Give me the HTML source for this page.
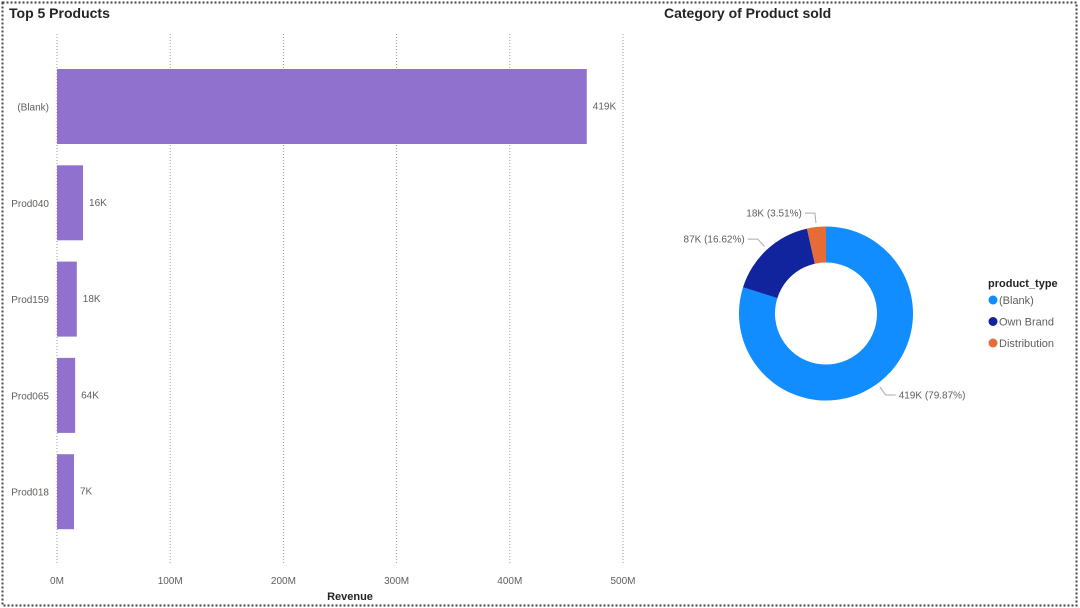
<!DOCTYPE html>
<html><head><meta charset="utf-8"><style>
body{margin:0;width:1080px;height:608px;background:#fff;font-family:"Liberation Sans",sans-serif;overflow:hidden}
svg{position:absolute;left:0;top:0}
</style></head><body>
<svg width="1080" height="608">
<rect x="2.5" y="2.5" width="1074" height="603" fill="none" stroke="#444" stroke-width="2" stroke-dasharray="2,2"/>
<text x="9" y="18" font-size="14" font-weight="bold" fill="#252423">Top 5 Products</text>
<text x="664" y="18" font-size="14" font-weight="bold" fill="#252423">Category of Product sold</text>
<g id="bars"></g>
<g id="donut"></g>
</svg>
<script>
const categories=["(Blank)","Prod040","Prod159","Prod065","Prod018"];
const revenues=[468,23,17.5,16,15];
const valueLabels=["419K","16K","18K","64K","7K"];
const ticks=[0,100,200,300,400,500];
const tickLabels=["0M","100M","200M","300M","400M","500M"];
const sliceNames=["(Blank)","Own Brand","Distribution"];
const slicePcts=[79.87,16.62,3.51];
const sliceLabels=["419K (79.87%)","87K (16.62%)","18K (3.51%)"];
const sliceColors=["#118dff","#12239e","#e66c37"];

const NS="http://www.w3.org/2000/svg";
function mk(tag,attrs,parent,text){const e=document.createElementNS(NS,tag);for(const k in attrs)e.setAttribute(k,attrs[k]);if(text!==undefined)e.textContent=text;parent.appendChild(e);return e;}
const x=v=>57+v*1.132;
const bandTop=i=>59+i*96.3;
const bg=document.getElementById('bars');
ticks.forEach((t,i)=>{
  const l=mk('line',{x1:x(t),x2:x(t),y1:34,y2:565,stroke:'#999','stroke-dasharray':'1,2'},bg);
  
  
  const tl=mk('text',{x:x(t),y:584,'font-size':10,fill:'#605e5c','text-anchor':'middle'},bg,tickLabels[i]);
  
  
});
const at=mk('text',{x:350,y:600,'font-size':11,'font-weight':'bold',fill:'#252423','text-anchor':'middle'},bg,'Revenue');


categories.forEach((c,i)=>{
  const y0=bandTop(i)+10,h=75;
  const r=mk('rect',{x:57,y:y0,width:x(revenues[i])-57,height:h,fill:'#9071ce'},bg);
  
  
  const cl=mk('text',{x:49,y:y0+h/2+4,'font-size':10,fill:'#605e5c','text-anchor':'end'},bg,c);
  
  
  const vl=mk('text',{x:x(revenues[i])+6,y:y0+h/2+3,'font-size':10,fill:'#605e5c'},bg,valueLabels[i]);
  
  
});
const dg=document.getElementById('donut');
const cx=826,cy=313.5,R=87,r0=51;
let a=0;
const pt=(ang,rad)=>[cx+rad*Math.sin(ang),cy-rad*Math.cos(ang)];
slicePcts.forEach((p,i)=>{
  const a1=a+p/100*2*Math.PI,large=(a1-a)>Math.PI?1:0;
  const [x1,y1]=pt(a,R),[x2,y2]=pt(a1,R),[x3,y3]=pt(a1,r0),[x4,y4]=pt(a,r0);
  const s=mk('path',{d:`M${x1},${y1}A${R},${R} 0 ${large} 1 ${x2},${y2}L${x3},${y3}A${r0},${r0} 0 ${large} 0 ${x4},${y4}Z`,fill:sliceColors[i]},dg);
  
  
  const mid=(a+a1)/2;
  const [lx,ly]=pt(mid,R+4),[ex,ey]=pt(mid,R+14);
  const right=Math.sin(mid)>=0;
  const hx=ex+(right?10:-10);
  const ll=mk('polyline',{points:`${lx},${ly} ${ex},${ey} ${hx},${ey}`,fill:'none',stroke:'#aaa'},dg);
  
  
  const t=mk('text',{x:hx+(right?3:-3),y:ey+3.5,'font-size':10,fill:'#605e5c','text-anchor':right?'start':'end'},dg,sliceLabels[i]);
  
  
  a=a1;
});
const lt=mk('text',{x:988,y:287,'font-size':11,'font-weight':'bold',fill:'#252423'},dg,'product_type');


sliceNames.forEach((n,i)=>{
  const y=300+i*21.5;
  const c=mk('circle',{cx:993,cy:y,r:4.5,fill:sliceColors[i]},dg);
  
  
  const t=mk('text',{x:999,y:y+4,'font-size':11,fill:'#605e5c'},dg,n);
  
  
});
</script>
</body></html>
